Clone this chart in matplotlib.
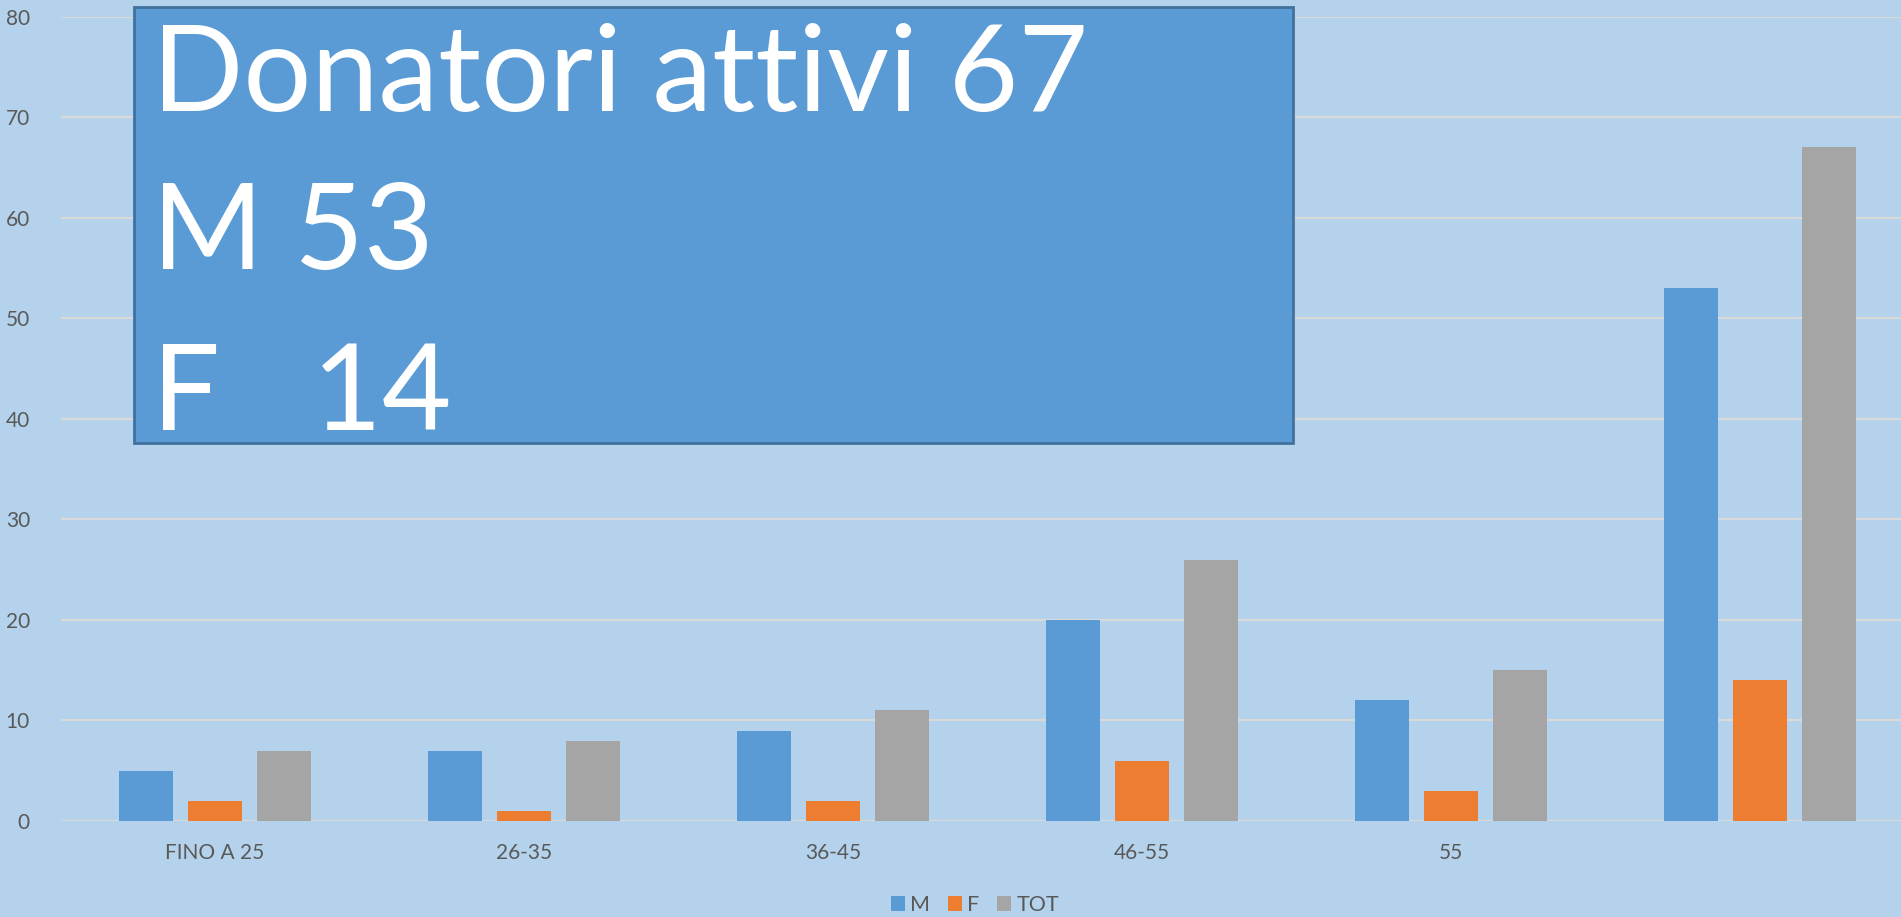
import matplotlib.pyplot as plt
import numpy as np
from matplotlib.patches import Rectangle

categories = ['FINO A 25', '26-35', '36-45', '46-55', '55', '']
m_vals = [5, 7, 9, 20, 12, 53]
f_vals = [2, 1, 2, 6, 3, 14]
tot_vals = [7, 8, 11, 26, 15, 67]
box_lines = ['Donatori attivi 67', 'M 53', 'F   14']

bg = '#B4D2EB'
plt.rcParams['font.family'] = ['Lato', 'DejaVu Sans']

W, H = 1901, 917
fig = plt.figure(figsize=(W / 100, H / 100), dpi=100, facecolor=bg)
ax = fig.add_axes([60.5 / W, (H - 821) / H, 1 - 60.5 / W, (821 - 16.7) / H])
ax.set_facecolor(bg)

x = np.arange(len(categories))
bw = 0.175
off = 0.222
ax.bar(x - off, m_vals, bw, color='#5B9BD5', label='M', zorder=3)
ax.bar(x, f_vals, bw, color='#ED7D31', label='F', zorder=3)
ax.bar(x + off, tot_vals, bw, color='#A5A5A5', label='TOT', zorder=3)

ax.set_xlim(-0.5, (W - 60.5) / 309 - 0.5)
ax.set_ylim(0, 80)
ax.set_yticks(range(0, 81, 10))
ax.set_xticks(x)
ax.set_xticklabels(categories)
ax.grid(axis='y', color='#D9D9D9', linewidth=1.6, zorder=0)
ax.tick_params(axis='both', length=0, labelsize=15, labelcolor='#595959')
ax.tick_params(axis='y', pad=22)
ax.tick_params(axis='x', pad=16)
for s in ax.spines.values():
    s.set_visible(False)

fig.legend(loc='center', bbox_to_anchor=(975 / W, 12 / H), ncol=3, frameon=False,
           fontsize=15.5, labelcolor='#595959', handlelength=0.67, handleheight=0.67,
           handletextpad=0.25, columnspacing=0.8)

# text box over the chart
fig.patches.append(Rectangle((134 / W, (H - 443) / H), (1293 - 134) / W, (443 - 7) / H,
                             transform=fig.transFigure, facecolor='#5B9BD5',
                             edgecolor='#41719C', linewidth=2, zorder=5))
for line, yb in zip(box_lines, [111.5, 269, 430.5]):
    fig.text(152 / W, (H - yb) / H, line, color='white', fontsize=86.5,
             va='baseline', ha='left', zorder=6)

fig.savefig('out.png', dpi=100, facecolor=bg)
